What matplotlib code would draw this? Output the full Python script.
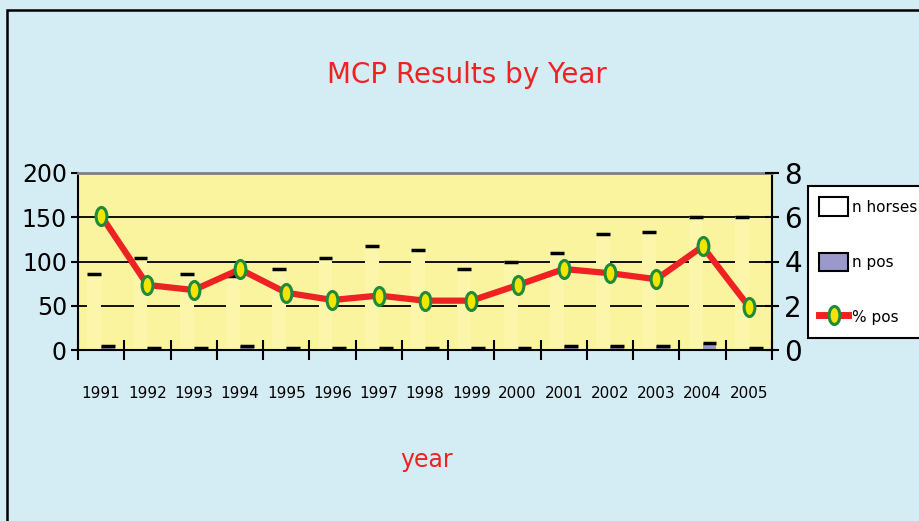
import numpy as np
import matplotlib.pyplot as plt
from matplotlib.path import Path
from matplotlib.patches import Rectangle, Patch
from matplotlib.lines import Line2D

years = ["1991", "1992", "1993", "1994", "1995", "1996", "1997", "1998",
         "1999", "2000", "2001", "2002", "2003", "2004", "2005"]
n_horses = [86, 104, 86, 84, 92, 104, 117, 113, 92, 99, 110, 131, 133, 150, 150]
n_pos = [5, 2, 2, 5, 2, 2, 2, 2, 2, 2, 5, 5, 5, 8, 2]
pct_pos = [6.07, 2.94, 2.71, 3.65, 2.59, 2.26, 2.46, 2.23, 2.23, 2.93,
           3.66, 3.47, 3.20, 4.68, 1.96]

red = "#ee2222"

fig = plt.figure(figsize=(9.2, 5.21), dpi=100)
fig.patch.set_facecolor("#d4ecf4")
fig.patches.append(Rectangle((7 / 920, -0.1), 1.2, 1 - 10 / 521 + 0.1,
                             transform=fig.transFigure, fill=False,
                             ec="black", lw=1.8))

ax = fig.add_axes([78 / 920, 171 / 521, 694 / 920, 177 / 521])
ax.set_facecolor("#fbf49f")

x = np.arange(len(years))
w = 0.3

# gridlines, hidden behind the bars
for g in [50, 100, 150]:
    ax.axhline(g, color="black", lw=1.3, zorder=1)

ax.bar(x - w / 2, n_horses, w, color="#fbf6aa", zorder=2)
ax.hlines(n_horses, x - w, x, color="black", lw=2.5, zorder=3)
ax.bar(x + w / 2, n_pos, w, color="#9999cc", zorder=2)
ax.hlines(n_pos, x, x + w, color="black", lw=2.5, zorder=3)

ax.set_xlim(-0.5, len(years) - 0.5)
ax.set_ylim(0, 200)
ax.set_yticks([0, 50, 100, 150, 200])
ax.set_yticklabels(["0", "50", "100", "150", "200"], fontsize=17)
ax.set_xticks(np.arange(len(years) + 1) - 0.5)
ax.set_xticklabels([])
ax.set_xticks(x, minor=True)
ax.set_xticklabels(years, minor=True, fontsize=11)
ax.tick_params(axis="x", which="major", direction="inout", length=14, width=1.5)
ax.tick_params(axis="x", which="minor", length=0, pad=26)
ax.tick_params(axis="y", direction="out", length=5, width=1.5, pad=3)
ax.spines["top"].set_color("#808080")
ax.spines["top"].set_linewidth(2)
for s in ["left", "bottom", "right"]:
    ax.spines[s].set_linewidth(1.5)

ax2 = ax.twinx()
ellipse = Path(Path.unit_circle().vertices * [0.6, 1.0], Path.unit_circle().codes)
ax2.plot(x, pct_pos, color=red, lw=4.5, marker=ellipse, markersize=13,
         markerfacecolor="#f2e600", markeredgecolor="#1f8a3a",
         markeredgewidth=2.2, zorder=5)
ax2.set_ylim(0, 8)
ax2.set_yticks([0, 2, 4, 6, 8])
ax2.tick_params(axis="y", direction="inout", length=10, width=1.5,
                labelsize=20, pad=4)
for s in ax2.spines.values():
    s.set_visible(False)

fig.text(467 / 920, 1 - 75 / 521, "MCP Results by Year", color=red,
         fontsize=20, ha="center", va="center")
fig.text(427 / 920, 1 - 460 / 521, "year", color=red, fontsize=17,
         ha="center", va="center")

handles = [Patch(facecolor="white", edgecolor="black", lw=1.5),
           Patch(facecolor="#9999cc", edgecolor="black", lw=1.5),
           Line2D([], [], color=red, lw=5, marker=ellipse, markersize=13,
                  markerfacecolor="#f2e600", markeredgecolor="#1f8a3a",
                  markeredgewidth=2.2)]
leg = fig.legend(handles, ["n horses", "n pos", "% pos"],
                 loc="upper left", bbox_to_anchor=(808 / 920, 1 - 186 / 521),
                 prop={"size": 11}, frameon=True,
                 fancybox=False, edgecolor="black", framealpha=1,
                 handlelength=1.9, handleheight=1.5, labelspacing=2.4,
                 handletextpad=0.25, borderpad=0.75, borderaxespad=0)
leg.get_frame().set_linewidth(1.5)

plt.savefig("out.png", dpi=100, facecolor=fig.get_facecolor())
